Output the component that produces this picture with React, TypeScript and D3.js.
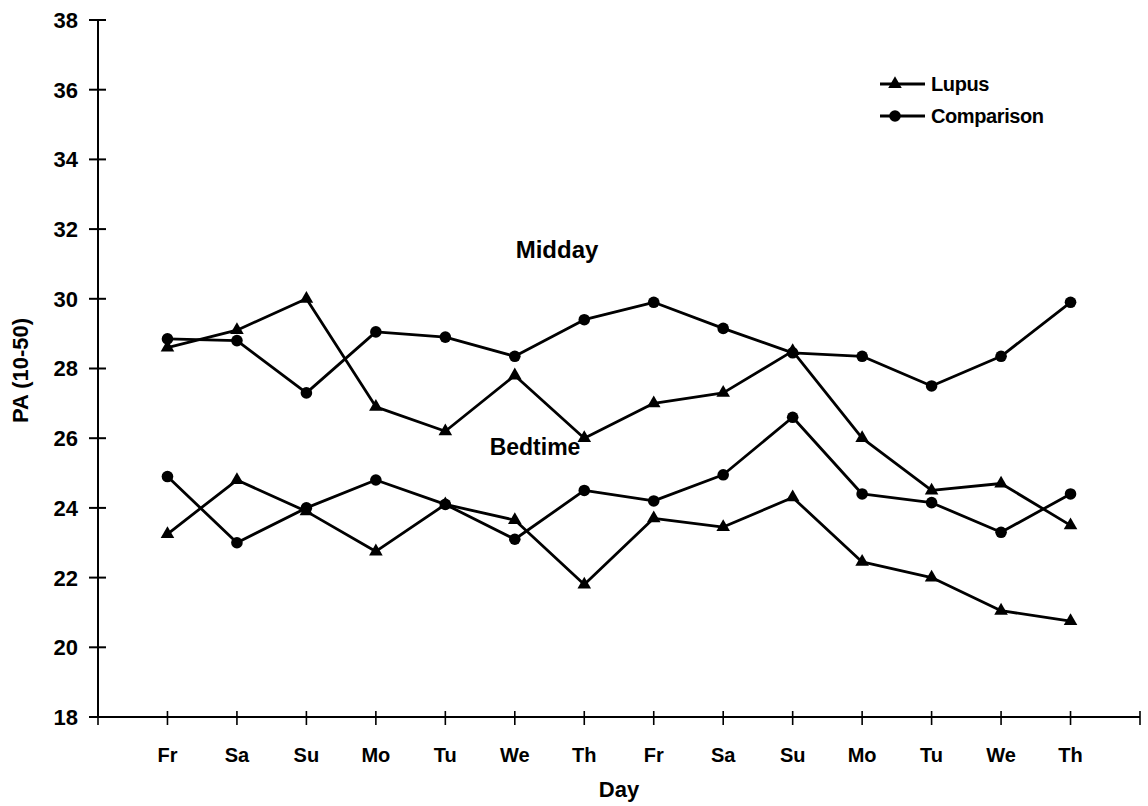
import React from "react";
import * as d3 from "d3";

const days = ["Fr", "Sa", "Su", "Mo", "Tu", "We", "Th", "Fr", "Sa", "Su", "Mo", "Tu", "We", "Th"];
const yTicks = [18, 20, 22, 24, 26, 28, 30, 32, 34, 36, 38];

const lupusMidday = [28.6, 29.1, 30.0, 26.9, 26.2, 27.8, 26.0, 27.0, 27.3, 28.5, 26.0, 24.5, 24.7, 23.5];
const comparisonMidday = [28.85, 28.8, 27.3, 29.05, 28.9, 28.35, 29.4, 29.9, 29.15, 28.45, 28.35, 27.5, 28.35, 29.9];
const lupusBedtime = [23.25, 24.8, 23.9, 22.75, 24.1, 23.65, 21.8, 23.7, 23.45, 24.3, 22.45, 22.0, 21.05, 20.75];
const comparisonBedtime = [24.9, 23.0, 24.0, 24.8, 24.1, 23.1, 24.5, 24.2, 24.95, 26.6, 24.4, 24.15, 23.3, 24.4];

const W = 1148;
const H = 806;
const FONT = "'Liberation Sans', Arial, sans-serif";

const x = d3.scaleLinear().domain([0, days.length + 1]).range([98, 1140]);
const y = d3.scaleLinear().domain([18, 38]).range([717, 20]);

const line = d3
  .line<number>()
  .x((_, i) => x(i + 1))
  .y((d) => y(d));

const triangle = d3.symbol().type(d3.symbolTriangle).size(80)() as string;

function Series({ values, marker }: { values: number[]; marker: "tri" | "dot" }) {
  return (
    <g>
      <path d={line(values) || ""} fill="none" stroke="#000" strokeWidth={2.8} strokeLinejoin="round" />
      {values.map((v, i) =>
        marker === "tri" ? (
          <path key={i} d={triangle} transform={`translate(${x(i + 1)},${y(v)})`} fill="#000" />
        ) : (
          <circle key={i} cx={x(i + 1)} cy={y(v)} r={5.8} fill="#000" />
        )
      )}
    </g>
  );
}

export default function App() {
  const x0 = x(0);
  const x1 = x(days.length + 1);
  const yBase = y(18);
  return (
    <svg
      width={W}
      height={H}
      style={{ position: "absolute", left: 0, top: 0, background: "#fff" }}
      fontFamily={FONT}
    >
      <rect width={W} height={H} fill="#fff" />
      {/* value axis */}
      <line x1={x0} x2={x0} y1={y(38)} y2={yBase} stroke="#000" strokeWidth={2} />
      {yTicks.map((t) => (
        <g key={t}>
          <line x1={x0 - 9} x2={x0 + 8} y1={y(t)} y2={y(t)} stroke="#000" strokeWidth={2} />
          <text x={x0 - 20} y={y(t)} dy="0.36em" textAnchor="end" fontSize={22} fontWeight="bold">
            {t}
          </text>
        </g>
      ))}
      {/* category axis */}
      <line x1={x0} x2={x1} y1={yBase} y2={yBase} stroke="#000" strokeWidth={2} />
      {d3.range(0, days.length + 2).map((i) => (
        <line key={i} x1={x(i)} x2={x(i)} y1={yBase - 6} y2={yBase + 8} stroke="#000" strokeWidth={1.6} />
      ))}
      {days.map((d, i) => (
        <text key={i} x={x(i + 1)} y={755} dy="0.36em" textAnchor="middle" fontSize={20} fontWeight="bold">
          {d}
        </text>
      ))}
      <text x={(x0 + x1) / 2} y={789} dy="0.36em" textAnchor="middle" fontSize={22} fontWeight="bold">
        Day
      </text>
      <text
        transform={`translate(20,${(y(38) + yBase) / 2 + 2}) rotate(-90)`}
        dy="0.36em"
        textAnchor="middle"
        fontSize={22}
        fontWeight="bold"
      >
        PA (10-50)
      </text>

      <Series values={lupusMidday} marker="tri" />
      <Series values={comparisonMidday} marker="dot" />
      <Series values={lupusBedtime} marker="tri" />
      <Series values={comparisonBedtime} marker="dot" />

      <text x={557} y={249} dy="0.36em" textAnchor="middle" fontSize={24} fontWeight="bold">
        Midday
      </text>
      <text x={535} y={447} dy="0.36em" textAnchor="middle" fontSize={23} fontWeight="bold">
        Bedtime
      </text>

      {/* legend */}
      <g>
        <line x1={880} x2={925} y1={84} y2={84} stroke="#000" strokeWidth={2.8} />
        <path d={triangle} transform="translate(895,84)" fill="#000" />
        <text x={931} y={84} dy="0.36em" fontSize={20} fontWeight="bold" letterSpacing={-0.4}>
          Lupus
        </text>
        <line x1={880} x2={925} y1={116} y2={116} stroke="#000" strokeWidth={2.8} />
        <circle cx={895} cy={116} r={5.8} fill="#000" />
        <text x={931} y={116} dy="0.36em" fontSize={20} fontWeight="bold" letterSpacing={-0.4}>
          Comparison
        </text>
      </g>
    </svg>
  );
}
